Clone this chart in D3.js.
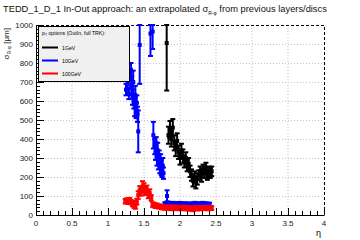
<!DOCTYPE html>
<html>
<head>
<meta charset="utf-8">
<script src="https://cdn.jsdelivr.net/npm/d3@7"></script>
<style>
	body { margin: 0; background: #fff; }
	text { font-family: "Liberation Sans", Arial, sans-serif; }
</style>
</head>
<body>
<div id="main"></div>
<script>
// 1GeV (black)
const etaBlack = [1.815, 1.84, 1.86, 1.88, 1.9, 1.92, 1.94, 1.96, 1.98, 2.0, 2.02, 2.04, 2.06, 2.08, 2.1, 2.12, 2.14, 2.16, 2.18, 2.2, 2.22, 2.24, 2.26, 2.28, 2.3, 2.32, 2.34, 2.36, 2.38, 2.4, 2.42, 2.44];
const valBlack = [905, 420, 450, 400, 460, 380, 350, 390, 330, 300, 340, 310, 280, 300, 260, 270, 230, 210, 180, 200, 170, 190, 210, 230, 200, 240, 220, 250, 210, 230, 220, 230];
const errBlack = [250, 45, 45, 40, 45, 40, 40, 40, 35, 35, 35, 35, 30, 30, 30, 30, 30, 30, 30, 30, 30, 30, 25, 25, 25, 25, 25, 25, 25, 25, 25, 25];

// 10GeV (blue)
const etaBlue = [1.25, 1.27, 1.29, 1.31, 1.32, 1.33, 1.34, 1.35, 1.36, 1.37, 1.38, 1.39, 1.4, 1.41, 1.42, 1.44, 1.59, 1.62,
	1.63, 1.65, 1.66, 1.67, 1.68, 1.69, 1.7, 1.71, 1.72, 1.73, 1.74, 1.75, 1.76, 1.77, 1.82,
	1.79, 1.81, 1.83, 1.85, 1.87, 1.89, 1.91, 1.93, 1.95, 1.97, 1.99, 2.01, 2.03, 2.05, 2.07, 2.09, 2.11, 2.13, 2.15, 2.17, 2.19, 2.21, 2.23, 2.25, 2.27, 2.29, 2.31, 2.33, 2.35, 2.37, 2.39, 2.41, 2.43, 2.45];
const valBlue = [660, 690, 640, 720, 760, 680, 620, 700, 600, 570, 630, 550, 590, 530, 440, 895, 955, 965,
	420, 360, 330, 380, 300, 340, 280, 310, 260, 290, 250, 230, 260, 220, 100,
	58, 60, 62, 60, 58, 56, 60, 58, 55, 57, 60, 58, 56, 55, 58, 56, 55, 57, 54, 56, 58, 60, 57, 56, 55, 58, 60, 58, 57, 56, 55, 56];
const errBlue = [30, 30, 30, 50, 40, 50, 40, 60, 40, 50, 50, 40, 40, 40, 110, 205, 118, 91,
	70, 40, 40, 30, 40, 40, 40, 30, 40, 30, 40, 30, 40, 30, 30,
	9, 9, 9, 9, 9, 9, 9, 9, 9, 9, 9, 9, 9, 9, 9, 9, 9, 9, 9, 9, 9, 9, 9, 9, 9, 9, 9, 9, 9, 9, 9, 9];

// 100GeV (red)
const etaRed = [1.24, 1.26, 1.28, 1.3, 1.32, 1.34, 1.36, 1.38, 1.4, 1.42, 1.44, 1.46, 1.48, 1.5, 1.52, 1.54, 1.56, 1.58, 1.6,
	1.62, 1.64, 1.66, 1.68, 1.7, 1.72, 1.74, 1.76, 1.78, 1.8, 1.82, 1.84, 1.86, 1.88, 1.9, 1.92, 1.94, 1.96, 1.98, 2.0,
	2.02, 2.04, 2.06, 2.08, 2.1, 2.12, 2.14, 2.16, 2.18, 2.2, 2.22, 2.24, 2.26, 2.28, 2.3, 2.32, 2.34, 2.36, 2.38, 2.4, 2.42, 2.44];
const valRed = [72, 76, 70, 78, 68, 60, 52, 45, 70, 105, 130, 122, 150, 142, 125, 135, 108, 115, 90,
	55, 52, 48, 50, 44, 46, 40, 42, 38, 40, 38, 36, 40, 38, 35, 38, 40, 36, 38, 35,
	37, 40, 36, 34, 38, 36, 33, 35, 30, 36, 38, 34, 37, 35, 38, 36, 38, 37, 35, 38, 36, 37];
const errRed = [12, 12, 12, 12, 12, 14, 14, 12, 15, 20, 22, 20, 28, 25, 20, 20, 20, 20, 15,
	12, 12, 11, 11, 10, 10, 10, 10, 10, 10, 10, 10, 10, 10, 10, 10, 10, 10, 10, 10,
	10, 10, 10, 10, 10, 10, 10, 10, 10, 10, 10, 10, 10, 10, 10, 10, 10, 10, 10, 10, 10, 10];

const xTicks = [0, 0.5, 1, 1.5, 2, 2.5, 3, 3.5, 4];
const yTicks = [0, 100, 200, 300, 400, 500, 600, 700, 800, 900, 1000];
const legendNames = ["1GeV", "10GeV", "100GeV"];

const W = 360, H = 240;
const m = { left: 36, right: 324, top: 25, bottom: 215 };

const svg = d3.select("#main").append("svg")
	.attr("width", W).attr("height", H)
	.style("display", "block");

const x = d3.scaleLinear().domain([0, 4]).range([m.left, m.right]);
const y = d3.scaleLinear().domain([0, 1000]).range([m.bottom, m.top]);

// grid
const grid = svg.append("g").attr("stroke", "#c4c4c4").attr("stroke-dasharray", "1,2");
grid.selectAll("line.gx").data(xTicks.slice(1, -1)).enter().append("line")
	.attr("x1", (d) => x(d)).attr("x2", (d) => x(d))
	.attr("y1", m.top).attr("y2", m.bottom);
grid.selectAll("line.gy").data(yTicks.slice(1, -1)).enter().append("line")
	.attr("x1", m.left).attr("x2", m.right)
	.attr("y1", (d) => y(d) + 0.5).attr("y2", (d) => y(d) + 0.5);

// frame top/right dashed
svg.append("path")
	.attr("d", `M${m.left},${m.top + 0.5}H${m.right + 0.5}V${m.bottom}`)
	.attr("fill", "none").attr("stroke", "#000").attr("stroke-dasharray", "3,2");

// data
const plot = svg.append("g");
plot.append("clipPath").attr("id", "clip").append("rect")
	.attr("x", m.left).attr("y", m.top - 2).attr("width", m.right - m.left).attr("height", m.bottom - m.top + 2);
const series = [
	{ eta: etaBlue, val: valBlue, err: errBlue, color: "#0000ff" },
	{ eta: etaBlack, val: valBlack, err: errBlack, color: "#000000" },
	{ eta: etaRed, val: valRed, err: errRed, color: "#ff0000" },
];
series.forEach((s) => {
	const pts = s.eta.map((e, i) => ({ e: e, v: s.val[i], er: s.err[i] }));
	const g = plot.append("g").attr("clip-path", "url(#clip)");
	const clampY = (v) => y(Math.min(1000, Math.max(0, v)));
	g.selectAll("line.bar").data(pts).enter().append("line")
		.attr("x1", (d) => x(d.e)).attr("x2", (d) => x(d.e))
		.attr("y1", (d) => clampY(d.v - d.er)).attr("y2", (d) => clampY(d.v + d.er))
		.attr("stroke", s.color).attr("stroke-width", 2);
	g.selectAll("line.capLo").data(pts).enter().append("line")
		.attr("x1", (d) => x(d.e) - 2.5).attr("x2", (d) => x(d.e) + 2.5)
		.attr("y1", (d) => clampY(d.v - d.er)).attr("y2", (d) => clampY(d.v - d.er))
		.attr("stroke", s.color).attr("stroke-width", 2);
	g.selectAll("line.capHi").data(pts).enter().append("line")
		.attr("x1", (d) => x(d.e) - 2.5).attr("x2", (d) => x(d.e) + 2.5)
		.attr("y1", (d) => clampY(d.v + d.er)).attr("y2", (d) => clampY(d.v + d.er))
		.attr("stroke", s.color).attr("stroke-width", 2);
	g.selectAll("rect").data(pts).enter().append("rect")
		.attr("x", (d) => x(d.e) - 2).attr("y", (d) => y(d.v) - 2)
		.attr("width", 4).attr("height", 4)
		.attr("fill", s.color);
});

// axes
const xAxis = d3.axisBottom(x).tickValues(d3.range(0, 4.001, 0.1)).tickSize(0).tickFormat("");
svg.append("line").attr("x1", m.left).attr("x2", m.right + 0.5)
	.attr("y1", m.bottom + 0.5).attr("y2", m.bottom + 0.5).attr("stroke", "#000");
svg.append("line").attr("x1", m.left + 0.5).attr("x2", m.left + 0.5)
	.attr("y1", m.top).attr("y2", m.bottom + 0.5).attr("stroke", "#000");

const xMinor = d3.range(0, 41).map((i) => i / 10);
svg.selectAll("line.xt").data(xMinor).enter().append("line")
	.attr("x1", (d) => Math.round(x(d)) + 0.5).attr("x2", (d) => Math.round(x(d)) + 0.5)
	.attr("y1", m.bottom).attr("y2", (d, i) => m.bottom - (i % 5 === 0 ? 7 : 4))
	.attr("stroke", "#000");
const yMinor = d3.range(0, 51).map((i) => i * 20);
svg.selectAll("line.yt").data(yMinor).enter().append("line")
	.attr("x1", m.left).attr("x2", (d, i) => m.left + (i % 5 === 0 ? 8 : 4))
	.attr("y1", (d) => Math.round(y(d)) + 0.5).attr("y2", (d) => Math.round(y(d)) + 0.5)
	.attr("stroke", "#000");

svg.selectAll("text.xl").data(xTicks).enter().append("text")
	.attr("x", (d) => x(d)).attr("y", m.bottom + 11)
	.attr("text-anchor", "middle").attr("font-size", 8).attr("fill", "#222")
	.text((d) => d3.format("")(d));
svg.selectAll("text.yl").data(yTicks).enter().append("text")
	.attr("x", m.left - 3).attr("y", (d) => y(d) + 3)
	.attr("text-anchor", "end").attr("font-size", 8).attr("fill", "#222")
	.text((d) => d);

// axis titles
svg.append("text").attr("x", 321).attr("y", 236)
	.attr("text-anchor", "end").attr("font-size", 9).text("η");
const yt = svg.append("text")
	.attr("transform", `translate(9,${m.top + 3}) rotate(-90)`)
	.attr("text-anchor", "end").attr("font-size", 8).attr("fill", "#222");
yt.append("tspan").text("σ");
yt.append("tspan").attr("font-size", 5).attr("dy", 2).text("R-φ");
yt.append("tspan").attr("dy", -2).text(" [μm]");

// title
const tt = svg.append("text").attr("x", 3).attr("y", 12).attr("font-size", 9.3).attr("fill", "#111");
tt.append("tspan").text("TEDD_1_D_1 In-Out approach: an extrapolated σ");
tt.append("tspan").attr("font-size", 5).attr("dy", 3).text("R-φ");
tt.append("tspan").attr("dy", -3).text("  from previous layers/discs");

// legend
const legend = svg.append("g");
legend.append("rect").attr("x", 38.5).attr("y", 26.5).attr("width", 91).attr("height", 55)
	.attr("fill", "#f0f0f0").attr("stroke", "#000");
const lh = legend.append("text").attr("x", 42).attr("y", 35).attr("font-size", 5.2);
lh.append("tspan").text("p");
lh.append("tspan").attr("font-size", 3.5).attr("dy", 1.2).text("T");
lh.append("tspan").attr("dy", -1.2).text(" options (OutIn, full TRK):");
const legColors = ["#000000", "#0000ff", "#ff0000"];
legendNames.forEach((n, i) => {
	legend.append("line").attr("x1", 42).attr("x2", 58)
		.attr("y1", 47.5 + i * 13).attr("y2", 47.5 + i * 13)
		.attr("stroke", legColors[i]).attr("stroke-width", 2);
	legend.append("text").attr("x", 62).attr("y", 49.5 + i * 13)
		.attr("font-size", 5.2).text(n);
});
</script>
</body>
</html>
